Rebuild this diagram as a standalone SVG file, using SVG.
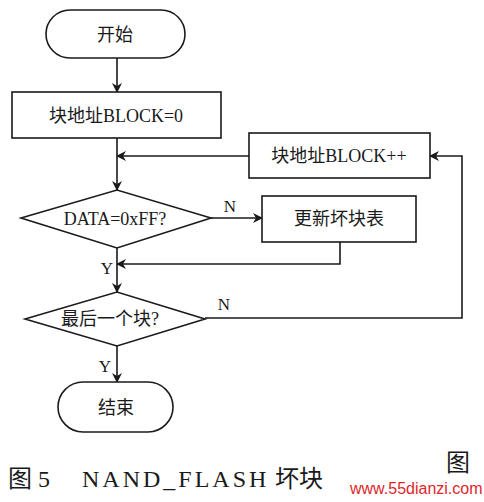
<svg xmlns="http://www.w3.org/2000/svg" width="484" height="502" viewBox="0 0 484 502">
<defs>
<marker id="ah" markerWidth="10" markerHeight="10" refX="9" refY="5" orient="auto" markerUnits="userSpaceOnUse">
<path d="M0,0 L10,5 L0,10 L3,5 Z" fill="#1a1a1a"/>
</marker>
<style>
.s{fill:#fff;stroke:#1a1a1a;stroke-width:1.6}
.c{fill:none;stroke:#1a1a1a;stroke-width:1.6}
.t{font-family:"Liberation Serif","Noto Sans CJK SC",serif;font-size:18px;fill:#1a1a1a;text-anchor:middle;dominant-baseline:central}
.l{font-family:"Liberation Serif",serif;font-size:17px;fill:#1a1a1a;text-anchor:middle;dominant-baseline:central}
.cap{font-family:"Liberation Serif","Noto Sans CJK SC",serif;font-size:24px;fill:#1a1a1a}
</style>
</defs>
<rect width="484" height="502" fill="#fff"/>
<g id="connectors">
<line class="c" x1="117" y1="58" x2="117" y2="92" marker-end="url(#ah)"/>
<line class="c" x1="117" y1="138" x2="117" y2="190" marker-end="url(#ah)"/>
<line class="c" x1="249" y1="156" x2="117" y2="156" marker-end="url(#ah)"/>
<polyline class="c" points="205,318 462,318 462,156 430,156" marker-end="url(#ah)"/>
<line class="c" x1="211" y1="218" x2="262" y2="218" marker-end="url(#ah)"/>
<polyline class="c" points="340,242 340,264 117,264" marker-end="url(#ah)"/>
<line class="c" x1="117" y1="248" x2="117" y2="292" marker-end="url(#ah)"/>
<line class="c" x1="117" y1="346" x2="117" y2="382" marker-end="url(#ah)"/>
<text class="l" x="230" y="206">N</text>
<text class="l" x="107" y="268">Y</text>
<text class="l" x="224" y="304">N</text>
<text class="l" x="105" y="366">Y</text>
</g>
<g id="start">
<rect class="s" x="46" y="10" width="139" height="48" rx="24"/>
<text class="t" x="115" y="35">开始</text>
</g>
<g id="init">
<rect class="s" x="12" y="92" width="209" height="46"/>
<text class="t" x="116" y="116">块地址BLOCK=0</text>
</g>
<g id="inc">
<rect class="s" x="249" y="133" width="181" height="45"/>
<text class="t" x="339" y="156">块地址BLOCK++</text>
</g>
<g id="check">
<polygon class="s" points="21,218 117,190 211,218 117,248"/>
<text class="t" x="115" y="219">DATA=0xFF?</text>
</g>
<g id="update">
<rect class="s" x="262" y="196" width="154" height="46"/>
<text class="t" x="339" y="219">更新坏块表</text>
</g>
<g id="last">
<polygon class="s" points="25,319 117,292 205,319 117,346"/>
<text class="t" x="110" y="319">最后一个块?</text>
</g>
<g id="end">
<rect class="s" x="58" y="382" width="115" height="50" rx="25"/>
<text class="t" x="116" y="408">结束</text>
</g>
<g id="caption">
<text class="cap" x="8" y="487">图 5</text>
<text class="cap" x="82" y="487" letter-spacing="3">NAND_FLASH</text>
<text class="cap" x="275" y="487">坏块</text>
<text class="cap" x="446" y="471" font-size="20">图</text>
<text x="350" y="494" font-family="Liberation Sans,sans-serif" font-size="16" fill="#e0262b">www.55dianzi.com</text>
</g>
</svg>
